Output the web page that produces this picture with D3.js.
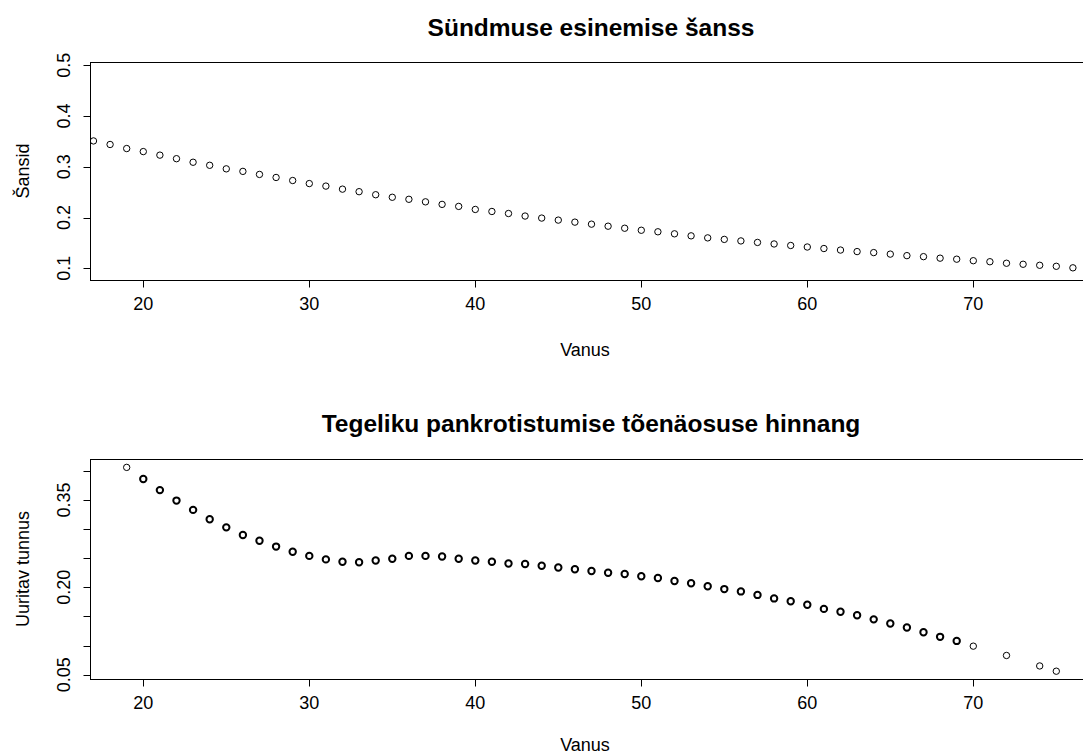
<!DOCTYPE html>
<html>
<head>
<meta charset="UTF-8">
<title>Sündmuse esinemise šanss</title>
<script src="https://cdnjs.cloudflare.com/ajax/libs/d3/7.8.5/d3.min.js"></script>
<style>
  body { margin: 0; background: #fff; }
  svg { display: block; font-family: "Liberation Sans", Arial, sans-serif; }
</style>
</head>
<body>
<svg id="chart" width="1083" height="756"></svg>
<script>
// top panel: odds by age
var ageTop = d3.range(17, 77);
var oddsTop = [0.351, 0.344, 0.336, 0.330, 0.323, 0.316, 0.309, 0.303, 0.296, 0.291,
               0.285, 0.279, 0.273, 0.267, 0.262, 0.256, 0.251, 0.245, 0.240, 0.236,
               0.231, 0.226, 0.222, 0.216, 0.212, 0.208, 0.203, 0.199, 0.195, 0.191,
               0.187, 0.183, 0.179, 0.175, 0.172, 0.168, 0.164, 0.160, 0.157, 0.154,
               0.151, 0.148, 0.145, 0.142, 0.139, 0.136, 0.133, 0.131, 0.128, 0.125,
               0.123, 0.120, 0.118, 0.115, 0.113, 0.110, 0.108, 0.106, 0.104, 0.101];

// bottom panel: estimated probability by age
var ageBottom = d3.range(19, 71).concat([72, 74, 75]);
var probBottom = [0.406, 0.386, 0.367, 0.349, 0.333, 0.317, 0.303, 0.290, 0.280, 0.270,
                  0.261, 0.254, 0.248, 0.244, 0.243, 0.246, 0.249, 0.254, 0.254, 0.253,
                  0.249, 0.246, 0.244, 0.241, 0.240, 0.237, 0.234, 0.231, 0.228, 0.225,
                  0.223, 0.219, 0.216, 0.211, 0.207, 0.202, 0.197, 0.193, 0.187, 0.181,
                  0.176, 0.170, 0.163, 0.158, 0.152, 0.145, 0.138, 0.131, 0.123, 0.115,
                  0.108, 0.099, 0.083, 0.065, 0.056];
// how many observations share each plotted point (overplotted ones look bold)
var countBottom = [1].concat(d3.range(20, 70).map(function () { return 2; })).concat([1, 1, 1, 1]);

var xTicks = [20, 30, 40, 50, 60, 70];
var yTicksTop = [0.1, 0.2, 0.3, 0.4, 0.5];
var yTicksBottom = [0.05, 0.10, 0.15, 0.20, 0.25, 0.30, 0.35, 0.40];
var yLabelsBottom = [0.05, 0.20, 0.35];

var svg = d3.select("#chart");
var left = 90, right = 1090;

function panel(opt) {
    var x = d3.scaleLinear().domain([16.79, 77.03]).range([left, right]);
    var y = d3.scaleLinear().domain(opt.ydom).range([opt.bottom, opt.top]);
    var g = svg.append("g");

    g.append("text")
        .attr("x", 591).attr("y", opt.titleY)
        .attr("text-anchor", "middle")
        .attr("font-size", 24.5).attr("font-weight", "bold")
        .text(opt.title);

    // points, clipped to the plot region
    var clipId = "clip" + opt.top;
    g.append("clipPath").attr("id", clipId).append("rect")
        .attr("x", left).attr("y", opt.top)
        .attr("width", right - left).attr("height", opt.bottom - opt.top);
    g.append("g").attr("clip-path", "url(#" + clipId + ")")
        .selectAll("circle").data(opt.xs)
        .enter().append("circle")
        .attr("cx", function (d) { return x(d); })
        .attr("cy", function (d, i) { return y(opt.ys[i]); })
        .attr("r", 3.2)
        .attr("fill", "none").attr("stroke", "#000")
        .attr("stroke-width", function (d, i) { return opt.counts && opt.counts[i] > 1 ? 2 : 1; });

    g.append("rect")
        .attr("x", left + 0.5).attr("y", opt.top + 0.5)
        .attr("width", right - left).attr("height", opt.bottom - opt.top)
        .attr("fill", "none").attr("stroke", "#000");

    // x axis
    var xa = g.append("g").attr("transform", "translate(0," + (opt.bottom + 0.5) + ")");
    xa.selectAll("line").data(xTicks).enter().append("line")
        .attr("x1", function (d) { return Math.round(x(d)) + 0.5; })
        .attr("x2", function (d) { return Math.round(x(d)) + 0.5; })
        .attr("y1", 0).attr("y2", 7).attr("stroke", "#000");
    xa.selectAll("text").data(xTicks).enter().append("text")
        .attr("x", function (d) { return x(d); }).attr("y", 29)
        .attr("text-anchor", "middle").attr("font-size", 18)
        .text(function (d) { return d; });
    g.append("text")
        .attr("x", 585).attr("y", opt.bottom + opt.xlabOff)
        .attr("text-anchor", "middle").attr("font-size", 18)
        .text("Vanus");

    // y axis
    var ya = g.append("g").attr("transform", "translate(" + (left + 0.5) + ",0)");
    ya.selectAll("line").data(opt.yticks).enter().append("line")
        .attr("y1", function (d) { return Math.round(y(d)) + 0.5; })
        .attr("y2", function (d) { return Math.round(y(d)) + 0.5; })
        .attr("x1", 0).attr("x2", -7).attr("stroke", "#000");
    ya.selectAll("text").data(opt.ylabels).enter().append("text")
        .attr("transform", function (d) { return "translate(-21," + y(d) + ") rotate(-90)"; })
        .attr("text-anchor", "middle").attr("font-size", 18)
        .text(opt.fmt);
    g.append("text")
        .attr("transform", "translate(29," + ((opt.top + opt.bottom) / 2) + ") rotate(-90)")
        .attr("text-anchor", "middle").attr("font-size", 18)
        .text(opt.ylab);
}

panel({
    title: "Sündmuse esinemise šanss", titleY: 36,
    top: 62, bottom: 280, ydom: [0.0770, 0.5065], xlabOff: 76,
    xs: ageTop, ys: oddsTop,
    yticks: yTicksTop, ylabels: yTicksTop, fmt: d3.format(".1f"),
    ylab: "Šansid"
});

panel({
    title: "Tegeliku pankrotistumise tõenäosuse hinnang", titleY: 432,
    top: 459, bottom: 679, ydom: [0.0426, 0.4204], xlabOff: 72,
    xs: ageBottom, ys: probBottom, counts: countBottom,
    yticks: yTicksBottom, ylabels: yLabelsBottom, fmt: d3.format(".2f"),
    ylab: "Uuritav tunnus"
});
</script>
</body>
</html>
